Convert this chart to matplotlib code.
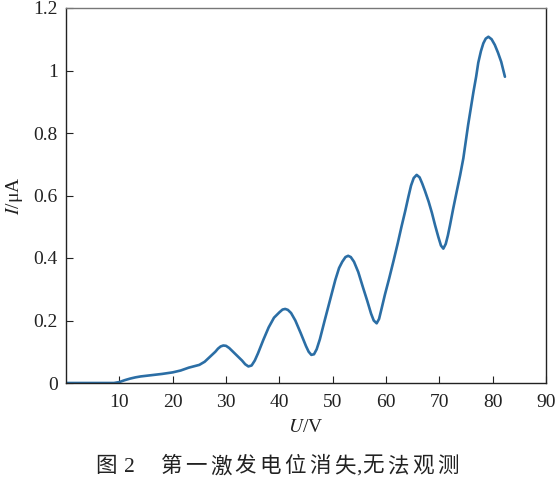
import numpy as np
import matplotlib
matplotlib.use("Agg")
import matplotlib.pyplot as plt

plt.rcParams['font.family'] = ['Liberation Serif', 'Noto Sans CJK SC']
plt.rcParams['mathtext.fontset'] = 'stix'

# readings: accelerating voltage (V) and plate current (uA)
voltage = [0, 5, 9, 10, 11, 12, 13, 14, 16, 18, 20, 21.5, 23, 25, 26, 27, 28, 28.5,
           29.0, 29.5, 30.0, 30.6, 31.5, 32.4, 33.0, 33.6, 34.2, 34.8, 35.4, 36.0,
           37, 38, 39, 40.0, 40.6, 41.1, 41.6, 42.2, 43.0, 44.0, 45.0, 45.5, 46.0,
           46.5, 47.0, 47.6, 48.5, 49.5, 50.5, 51.2, 51.8, 52.4, 52.9, 53.4, 54.0,
           54.8, 55.7, 56.5, 57.2, 57.7, 58.25, 58.7, 59.2, 59.8, 60.6, 61.4, 62.2,
           62.9, 63.6, 64.2, 64.7, 65.2, 65.75, 66.3, 66.8, 67.3, 68.0, 68.6, 69.2,
           69.8, 70.3, 70.75, 71.2, 71.6, 72.0, 72.6, 73.25, 73.9, 74.5, 75.4, 76.4,
           76.9, 77.3, 77.8, 78.25, 78.7, 79.2, 79.8, 80.4, 81.0, 81.6, 82.3]
current = [0, 0, 0, 0.003, 0.009, 0.014, 0.018, 0.021, 0.025, 0.029, 0.034, 0.040,
           0.049, 0.058, 0.068, 0.084, 0.100, 0.110, 0.117, 0.120, 0.119, 0.112,
           0.097, 0.082, 0.072, 0.060, 0.053, 0.056, 0.072, 0.095, 0.138, 0.178,
           0.209, 0.226, 0.235, 0.237, 0.234, 0.224, 0.200, 0.160, 0.118, 0.100,
           0.090, 0.092, 0.108, 0.140, 0.200, 0.265, 0.330, 0.368, 0.388, 0.403,
           0.407, 0.403, 0.388, 0.355, 0.305, 0.262, 0.222, 0.200, 0.191, 0.205,
           0.240, 0.283, 0.335, 0.390, 0.447, 0.500, 0.550, 0.596, 0.632, 0.656,
           0.666, 0.658, 0.638, 0.615, 0.580, 0.545, 0.505, 0.468, 0.440, 0.430,
           0.445, 0.472, 0.505, 0.558, 0.612, 0.665, 0.719, 0.826, 0.932, 0.980,
           1.025, 1.062, 1.087, 1.102, 1.108, 1.100, 1.082, 1.057, 1.028, 0.980]

xticks = [10, 20, 30, 40, 50, 60, 70, 80, 90]
yticks = [0, 0.2, 0.4, 0.6, 0.8, 1.0, 1.2]
ylabels = ["0", "0.2", "0.4", "0.6", "0.8", "1", "1.2"]

# caption characters with their horizontal centres (pixels)
caption_chars = ["图", "2", "第", "一", "激", "发", "电", "位", "消", "失", ",", "无", "法", "观", "测"]
caption_x = [106, 129, 172, 196, 221, 245, 270, 295, 320, 345, 359, 373, 398, 423, 448]

W, H = 557, 478
fig = plt.figure(figsize=(W / 100, H / 100), dpi=100)
ax = fig.add_axes([66 / W, 1 - 383 / H, 480 / W, 375 / H])

ax.plot(voltage, current, color="#2b6ea5", lw=1.9, solid_capstyle="round",
        solid_joinstyle="round")

ax.set_xlim(0, 90)
ax.set_ylim(0, 1.2)
ax.set_xticks(xticks)
ax.set_xticklabels([str(t) for t in xticks])
ax.set_yticks(yticks)
ax.set_yticklabels(ylabels)
ax.tick_params(direction="in", length=5, width=0.8, labelsize=14, colors="#222222",
               top=False, right=False)
ax.tick_params(axis="x", pad=8)
ax.tick_params(axis="y", pad=6)

for s in ax.spines.values():
    s.set_linewidth(1.0)
    s.set_color("#222222")
ax.spines["top"].set_color("#777777")

ax.set_xlabel("$U$/V", fontsize=14, color="#222222", labelpad=6)
ax.set_ylabel("$I$/μA", fontsize=14, color="#222222", labelpad=6)

for ch, cx in zip(caption_chars, caption_x):
    fig.text(cx / W, 1 - 467 / H, ch, ha="center", va="center",
             fontsize=15.5, color="#222222")

fig.savefig("out.png", dpi=100)
